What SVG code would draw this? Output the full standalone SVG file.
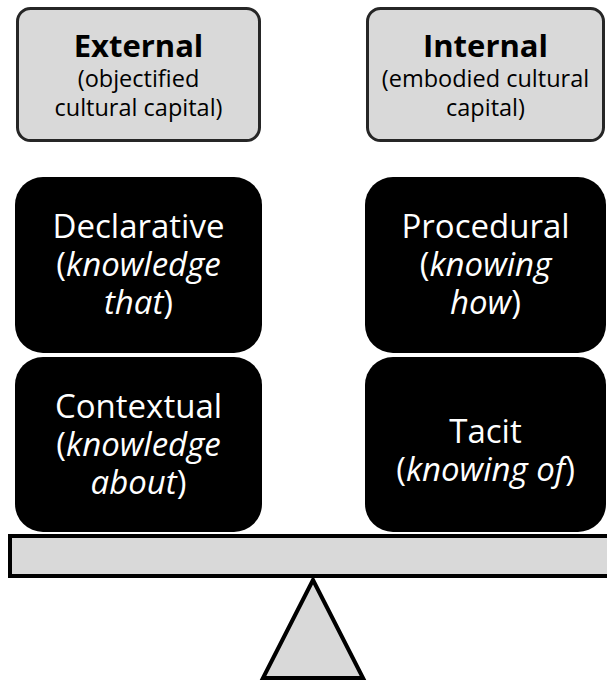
<svg xmlns="http://www.w3.org/2000/svg" width="607" height="681" viewBox="0 0 607 681">
  <style>
    .cat { fill: #d9d9d9; stroke: #262626; stroke-width: 3; }
    .know { fill: #000000; }
    .scale { fill: #d9d9d9; stroke: #000000; stroke-width: 4; }
    text { font-family: "Open Sans", "Liberation Sans", sans-serif; text-anchor: middle; }
    .title { font-size: 31px; font-weight: bold; fill: #000; }
    .sub { font-size: 23.5px; fill: #000; }
    .big { font-size: 33px; fill: #ffffff; }
    .it { font-style: italic; }
  </style>
  <rect width="607" height="681" fill="#ffffff"/>

  <g id="external">
    <rect class="cat" x="17.5" y="8.5" width="242" height="132" rx="13"/>
    <text x="138.5" y="57"><tspan class="title" x="138.5" y="57">External</tspan><tspan class="sub" x="138.5" y="87">(objectified</tspan><tspan class="sub" x="138.5" y="116">cultural capital)</tspan></text>
  </g>

  <g id="internal">
    <rect class="cat" x="367.5" y="8.5" width="236" height="132" rx="13"/>
    <text x="485.5" y="57"><tspan class="title" x="485.5" y="57">Internal</tspan><tspan class="sub" x="485.5" y="87">(embodied cultural</tspan><tspan class="sub" x="485.5" y="116">capital)</tspan></text>
  </g>

  <g id="declarative">
    <rect class="know" x="15" y="177" width="247" height="176" rx="28"/>
    <text class="big" x="138.5" y="238"><tspan x="138.5" y="238">Declarative</tspan><tspan x="138.5" y="276">(<tspan class="it">knowledge</tspan></tspan><tspan x="138.5" y="314"><tspan class="it">that</tspan>)</tspan></text>
  </g>

  <g id="procedural">
    <rect class="know" x="365" y="177" width="241" height="176" rx="28"/>
    <text class="big" x="485.5" y="238"><tspan x="485.5" y="238">Procedural</tspan><tspan x="485.5" y="276">(<tspan class="it">knowing</tspan></tspan><tspan x="485.5" y="314"><tspan class="it">how</tspan>)</tspan></text>
  </g>

  <g id="contextual">
    <rect class="know" x="15" y="357" width="247" height="175" rx="28"/>
    <text class="big" x="138.5" y="418"><tspan x="138.5" y="418">Contextual</tspan><tspan x="138.5" y="456">(<tspan class="it">knowledge</tspan></tspan><tspan x="138.5" y="494"><tspan class="it">about</tspan>)</tspan></text>
  </g>

  <g id="tacit">
    <rect class="know" x="365" y="357" width="241" height="175" rx="28"/>
    <text class="big" x="485.5" y="443"><tspan x="485.5" y="443">Tacit</tspan><tspan x="485.5" y="481">(<tspan class="it">knowing of</tspan>)</tspan></text>
  </g>

  <g id="beam">
    <rect class="scale" x="10" y="536" width="620" height="40"/>
  </g>

  <g id="fulcrum">
    <polygon class="scale" points="313,580 363,678 263,678"/>
  </g>

  <g id="connectors"></g>
</svg>
